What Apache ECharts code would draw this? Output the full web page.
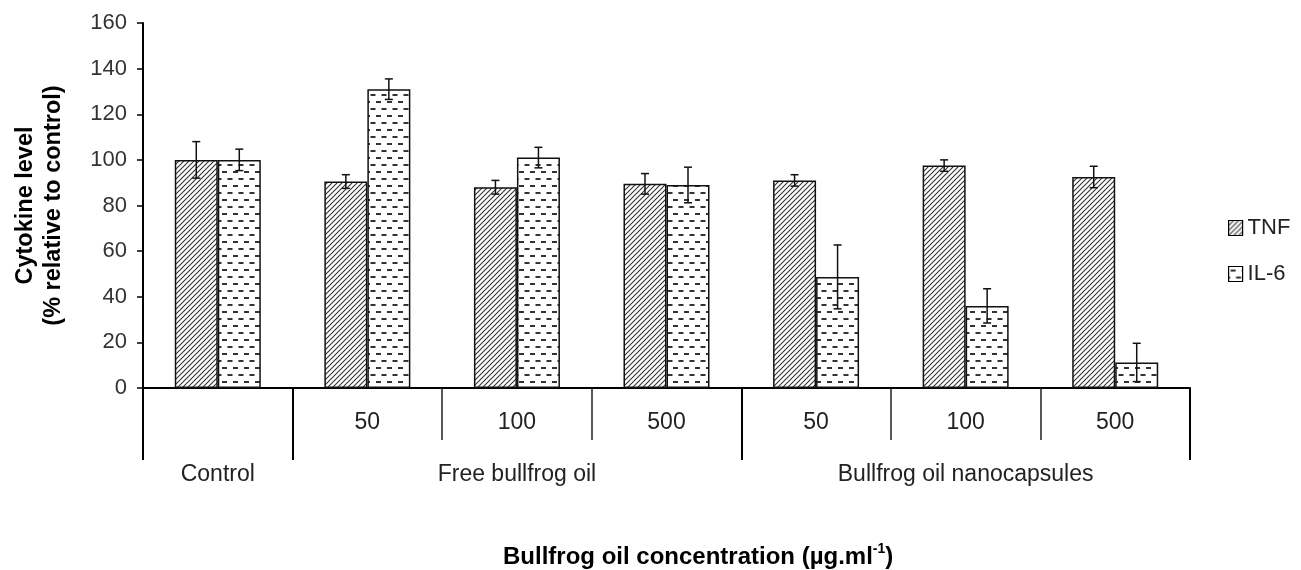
<!DOCTYPE html>
<html>
<head>
<meta charset="utf-8">
<script src="https://cdn.jsdelivr.net/npm/echarts@6/dist/echarts.min.js"></script>
<style>
  html, body { margin: 0; padding: 0; background: #fff; }
  #main { width: 1301px; height: 570px; }
</style>
</head>
<body>
<div id="main"></div>
<script>
// data
var doseLabels = ['', '50', '100', '500', '50', '100', '500'];
var groupLabels = ['Control', '', 'Free bullfrog oil', '', '', 'Bullfrog oil nanocapsules', ''];
var seriesNames = ['TNF', 'IL-6'];
var tnf = [100, 90.5, 88, 89.5, 91, 97.5, 92.5];
var tnfErr = [8, 3, 3, 4.5, 2.5, 2.5, 4.7];
var il6 = [100, 131, 101, 89, 48.7, 36, 11.2];
var il6Err = [4.7, 4.5, 4.5, 7.8, 14, 7.5, 8.4];
var yTicks = { min: 0, max: 160, interval: 20 };

var font = '"Liberation Sans", Arial, sans-serif';
var barPart = 0.2875; // bar width as share of a category band

// hatch for TNF
function diagPattern() {
	var s = 5;
	var c = document.createElement('canvas');
	c.width = s; c.height = s;
	var ctx = c.getContext('2d');
	ctx.fillStyle = '#fff';
	ctx.fillRect(0, 0, s, s);
	ctx.strokeStyle = '#333';
	ctx.lineWidth = 1.1;
	ctx.beginPath();
	ctx.moveTo(0, s); ctx.lineTo(s, 0);
	ctx.moveTo(-1, 1); ctx.lineTo(1, -1);
	ctx.moveTo(s - 1, s + 1); ctx.lineTo(s + 1, s - 1);
	ctx.stroke();
	return c;
}

// dashes for IL-6
function dashPattern() {
	var w = 11, h = 14;
	var c = document.createElement('canvas');
	c.width = w; c.height = h;
	var ctx = c.getContext('2d');
	ctx.fillStyle = '#fff';
	ctx.fillRect(0, 0, w, h);
	ctx.fillStyle = '#333';
	ctx.fillRect(2, 3, 5, 2);
	ctx.fillRect(7.5, 10, 5, 2);
	ctx.fillRect(-3.5, 10, 5, 2);
	return c;
}

var fills = [
	{ image: diagPattern(), repeat: 'repeat' },
	{ image: dashPattern(), repeat: 'repeat' }
];

function errData(vals, errs) {
	return vals.map(function (v, i) { return [i, v, errs[i]]; });
}

function errSeries(name, vals, errs, side) {
	return {
		name: name + ' err',
		type: 'custom',
		z: 5,
		data: errData(vals, errs),
		renderItem: function (params, api) {
			var band = api.size([1, 0])[0];
			var off = side * band * barPart / 2;
			var v = api.value(1), e = api.value(2);
			var top = api.coord([api.value(0), v + e]);
			var bot = api.coord([api.value(0), v - e]);
			var x = top[0] + off;
			var cap = 4;
			var st = { stroke: '#111', lineWidth: 1.5 };
			return {
				type: 'group',
				children: [
					{ type: 'line', shape: { x1: x, y1: top[1], x2: x, y2: bot[1] }, style: st },
					{ type: 'line', shape: { x1: x - cap, y1: top[1], x2: x + cap, y2: top[1] }, style: st },
					{ type: 'line', shape: { x1: x - cap, y1: bot[1], x2: x + cap, y2: bot[1] }, style: st }
				]
			};
		}
	};
}

var chart = echarts.init(document.getElementById('main'));

var option = {
	animation: false,
	textStyle: { fontFamily: font },
	title: {
		left: 498,
		top: 537,
		text: '{b|Bullfrog oil concentration (µg.ml}{s|-1}{b|)}',
		textStyle: {
			rich: {
				b: { fontFamily: font, fontWeight: 'bold', fontSize: 24, color: '#000', lineHeight: 30 },
				s: { fontFamily: font, fontWeight: 'bold', fontSize: 14, color: '#000', verticalAlign: 'top', lineHeight: 30, padding: [0, 0, 12, 0] }
			}
		}
	},
	legend: {
		data: seriesNames,
		orient: 'vertical',
		left: 1228,
		top: 217,
		padding: 0,
		itemWidth: 14,
		itemHeight: 15,
		itemGap: 24,
		icon: 'rect',
		itemStyle: { borderColor: '#000', borderWidth: 1.2 },
		textStyle: { fontFamily: font, fontSize: 22, color: '#222', padding: [0, 0, 0, 0] }
	},
	grid: { left: 143, right: 111, top: 23, bottom: 182 },
	xAxis: [{
		type: 'category',
		data: doseLabels,
		axisLine: { lineStyle: { color: '#000', width: 2 } },
		axisTick: { show: true, length: 52, lineStyle: { color: '#222', width: 1.5 } },
		axisLabel: { margin: 23, fontSize: 23, color: '#222', interval: 0 }
	}, {
		type: 'category',
		data: groupLabels,
		position: 'bottom',
		axisLine: { show: false },
		axisTick: {
			show: true,
			length: 72,
			interval: function (i) { return i === 0 || i === 1 || i === 4; },
			lineStyle: { color: '#000', width: 2 }
		},
		axisLabel: { margin: 75, fontSize: 23, color: '#222', interval: 0 }
	}],
	yAxis: {
		type: 'value',
		min: yTicks.min,
		max: yTicks.max,
		interval: yTicks.interval,
		name: 'Cytokine level\n(% relative to control)',
		nameLocation: 'middle',
		nameGap: 75,
		nameTextStyle: { fontFamily: font, fontWeight: 'bold', fontSize: 23.5, color: '#000', lineHeight: 28 },
		axisLine: { show: true, lineStyle: { color: '#000', width: 2 } },
		axisTick: { show: true, length: 6, lineStyle: { color: '#000', width: 1.5 } },
		axisLabel: { margin: 16, fontSize: 22, color: '#333' },
		splitLine: { show: false }
	},
	series: [{
		name: seriesNames[0],
		type: 'bar',
		data: tnf,
		barWidth: (barPart * 100) + '%',
		barGap: '0%',
		itemStyle: { color: fills[0], borderColor: '#111', borderWidth: 1.5 }
	}, {
		name: seriesNames[1],
		type: 'bar',
		data: il6,
		barWidth: (barPart * 100) + '%',
		barGap: '0%',
		itemStyle: { color: fills[1], borderColor: '#111', borderWidth: 1.5 }
	},
	errSeries('TNF', tnf, tnfErr, -1),
	errSeries('IL-6', il6, il6Err, 1)
	]
};

chart.setOption(option);
</script>
</body>
</html>
